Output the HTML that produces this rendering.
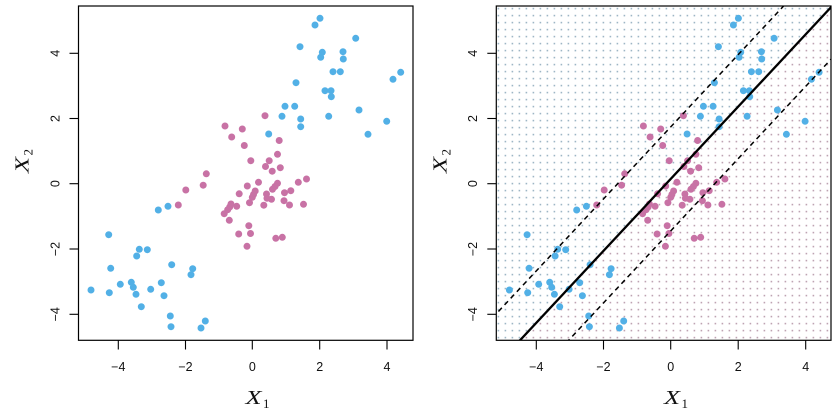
<!DOCTYPE html>
<html>
<head>
<meta charset="utf-8">
<style>
html,body{margin:0;padding:0;background:#fff;}
svg{display:block;}
text{font-family:"Liberation Sans",Arial,sans-serif;fill:#111;}
.t{font-size:12.5px;}
.m{font-family:"Liberation Serif","Times New Roman",serif;}
</style>
</head>
<body>
<svg width="840" height="414" viewBox="0 0 840 414" xmlns="http://www.w3.org/2000/svg">
<rect width="840" height="414" fill="#fff"/>
<defs>
  <clipPath id="cr"><rect x="496.3" y="6" width="334.7" height="334.3"/></clipPath>
  <pattern id="pb" x="497.6" y="7.8" width="7" height="7" patternUnits="userSpaceOnUse">
    <rect width="1.6" height="1.6" fill="#9db6c5"/>
  </pattern>
  <pattern id="pp" x="497.6" y="7.8" width="7" height="7" patternUnits="userSpaceOnUse">
    <rect width="1.6" height="1.6" fill="#bea3b2"/>
  </pattern>
  <g id="pts">
    <g fill="#52b0e6">
      <circle cx="320" cy="18.3" r="3.5"/><circle cx="315" cy="25" r="3.5"/><circle cx="355.7" cy="38.3" r="3.5"/>
      <circle cx="300" cy="46.7" r="3.5"/><circle cx="322.3" cy="52.3" r="3.5"/><circle cx="320.7" cy="57.3" r="3.5"/>
      <circle cx="343" cy="51.7" r="3.5"/><circle cx="343.3" cy="59" r="3.5"/><circle cx="333" cy="71.7" r="3.5"/>
      <circle cx="340.3" cy="71.7" r="3.5"/><circle cx="400.7" cy="72.3" r="3.5"/><circle cx="393" cy="79.3" r="3.5"/>
      <circle cx="296" cy="82.7" r="3.5"/><circle cx="325" cy="90.7" r="3.5"/><circle cx="331" cy="90.7" r="3.5"/>
      <circle cx="331.3" cy="96.7" r="3.5"/><circle cx="285" cy="106.3" r="3.5"/><circle cx="294.7" cy="106.3" r="3.5"/>
      <circle cx="359" cy="110" r="3.5"/><circle cx="282" cy="116.3" r="3.5"/><circle cx="300.7" cy="119" r="3.5"/>
      <circle cx="328.7" cy="116.3" r="3.5"/><circle cx="386.7" cy="121.3" r="3.5"/><circle cx="300.7" cy="126.7" r="3.5"/>
      <circle cx="368" cy="134.3" r="3.5"/><circle cx="268.7" cy="134" r="3.5"/>
      <circle cx="158.3" cy="210" r="3.5"/><circle cx="168" cy="206.3" r="3.5"/><circle cx="108.7" cy="234.7" r="3.5"/>
      <circle cx="139.3" cy="249.3" r="3.5"/><circle cx="147.3" cy="249.7" r="3.5"/><circle cx="136.7" cy="256" r="3.5"/>
      <circle cx="110.7" cy="268.3" r="3.5"/><circle cx="171.7" cy="264.7" r="3.5"/><circle cx="192.7" cy="268.7" r="3.5"/>
      <circle cx="191" cy="274.7" r="3.5"/><circle cx="91" cy="290" r="3.5"/><circle cx="120.3" cy="284.3" r="3.5"/>
      <circle cx="131.3" cy="282.3" r="3.5"/><circle cx="133.3" cy="287.3" r="3.5"/><circle cx="150.7" cy="289.3" r="3.5"/>
      <circle cx="161.3" cy="282.7" r="3.5"/><circle cx="109.3" cy="292.7" r="3.5"/><circle cx="136" cy="294.3" r="3.5"/>
      <circle cx="164" cy="295.7" r="3.5"/><circle cx="141.3" cy="306.7" r="3.5"/><circle cx="170.3" cy="316" r="3.5"/>
      <circle cx="171" cy="326.7" r="3.5"/><circle cx="205.3" cy="321" r="3.5"/><circle cx="201" cy="328" r="3.5"/>
    </g>
    <g fill="#c872a5">
      <circle cx="265" cy="115.7" r="3.5"/><circle cx="225" cy="126" r="3.5"/><circle cx="242.3" cy="129" r="3.5"/>
      <circle cx="231.7" cy="137" r="3.5"/><circle cx="244.3" cy="145.5" r="3.5"/><circle cx="279.2" cy="140.5" r="3.5"/>
      <circle cx="277.5" cy="154.3" r="3.5"/><circle cx="250.8" cy="160.7" r="3.5"/><circle cx="269.2" cy="160.7" r="3.5"/>
      <circle cx="265.5" cy="166.5" r="3.5"/><circle cx="280.3" cy="167.7" r="3.5"/><circle cx="272.2" cy="171.2" r="3.5"/>
      <circle cx="206.3" cy="173.8" r="3.5"/><circle cx="203.2" cy="185.2" r="3.5"/><circle cx="185.8" cy="190" r="3.5"/>
      <circle cx="306.5" cy="179" r="3.5"/><circle cx="298.3" cy="182.3" r="3.5"/><circle cx="258.5" cy="182.3" r="3.5"/>
      <circle cx="247.3" cy="186" r="3.5"/><circle cx="277.5" cy="183.3" r="3.5"/><circle cx="275" cy="186.5" r="3.5"/>
      <circle cx="272.5" cy="189.3" r="3.5"/><circle cx="290.8" cy="190.7" r="3.5"/><circle cx="284.5" cy="192.7" r="3.5"/>
      <circle cx="255.2" cy="191" r="3.5"/><circle cx="253.5" cy="194.5" r="3.5"/><circle cx="252.3" cy="197.3" r="3.5"/>
      <circle cx="249.5" cy="202.7" r="3.5"/><circle cx="239.2" cy="193.8" r="3.5"/><circle cx="266.5" cy="194" r="3.5"/>
      <circle cx="267" cy="198.3" r="3.5"/><circle cx="271.5" cy="199.3" r="3.5"/><circle cx="284" cy="200.7" r="3.5"/>
      <circle cx="289.5" cy="205" r="3.5"/><circle cx="303.5" cy="204.3" r="3.5"/><circle cx="263.8" cy="205.2" r="3.5"/>
      <circle cx="231" cy="204" r="3.5"/><circle cx="229.7" cy="207" r="3.5"/><circle cx="236.7" cy="206.3" r="3.5"/>
      <circle cx="227.7" cy="209.7" r="3.5"/><circle cx="224.2" cy="213.7" r="3.5"/><circle cx="229.3" cy="220.3" r="3.5"/>
      <circle cx="248.8" cy="225.7" r="3.5"/><circle cx="250.5" cy="233.5" r="3.5"/><circle cx="238.7" cy="234" r="3.5"/>
      <circle cx="275.8" cy="238.3" r="3.5"/><circle cx="282.3" cy="237.3" r="3.5"/><circle cx="247" cy="246.3" r="3.5"/>
      <circle cx="178.3" cy="205" r="3.5"/>
    </g>
  </g>
</defs>

<!-- LEFT PANEL -->
<use href="#pts"/>
<rect x="78.5" y="6" width="334.5" height="334.3" fill="none" stroke="#000" stroke-width="1.2"/>
<g stroke="#000" stroke-width="1.1">
  <line x1="118.3" y1="340.3" x2="118.3" y2="349.5"/>
  <line x1="185.5" y1="340.3" x2="185.5" y2="349.5"/>
  <line x1="252.3" y1="340.3" x2="252.3" y2="349.5"/>
  <line x1="319.7" y1="340.3" x2="319.7" y2="349.5"/>
  <line x1="387" y1="340.3" x2="387" y2="349.5"/>
  <line x1="69.5" y1="53.3" x2="78.5" y2="53.3"/>
  <line x1="69.5" y1="118.5" x2="78.5" y2="118.5"/>
  <line x1="69.5" y1="183.7" x2="78.5" y2="183.7"/>
  <line x1="69.5" y1="249" x2="78.5" y2="249"/>
  <line x1="69.5" y1="314.3" x2="78.5" y2="314.3"/>
</g>
<g class="t" text-anchor="middle">
  <text x="118.3" y="371">−4</text>
  <text x="185.5" y="371">−2</text>
  <text x="252.3" y="371">0</text>
  <text x="319.7" y="371">2</text>
  <text x="387" y="371">4</text>
  <text transform="translate(59.3,53.3) rotate(-90)">4</text>
  <text transform="translate(59.3,118.5) rotate(-90)">2</text>
  <text transform="translate(59.3,183.7) rotate(-90)">0</text>
  <text transform="translate(59.3,249) rotate(-90)">−2</text>
  <text transform="translate(59.3,314.3) rotate(-90)">−4</text>
</g>
<text class="m" x="245.5" y="404" font-size="20" font-style="italic" textLength="16" lengthAdjust="spacingAndGlyphs">X</text>
<text class="m" x="263" y="408" font-size="13">1</text>
<text class="m" transform="translate(28.5,173) rotate(-90)" font-size="20" font-style="italic" textLength="16" lengthAdjust="spacingAndGlyphs">X</text>
<text class="m" transform="translate(32.5,155.5) rotate(-90)" font-size="13">2</text>

<!-- RIGHT PANEL -->
<g clip-path="url(#cr)">
  <polygon points="496.3,6 831,6 831,7.2 520,340.3 496.3,340.3" fill="url(#pb)"/>
  <polygon points="831,7.2 831,340.3 520,340.3" fill="url(#pp)"/>
  <use href="#pts" x="418.4"/>
  <line x1="510" y1="351" x2="840" y2="-2.4" stroke="#000" stroke-width="2.3"/>
  <line x1="480" y1="331.2" x2="840" y2="-54.4" stroke="#000" stroke-width="1.5" stroke-dasharray="5 4"/>
  <line x1="560" y1="349.5" x2="840" y2="49.6" stroke="#000" stroke-width="1.5" stroke-dasharray="5 4"/>
</g>
<rect x="496.3" y="6" width="334.7" height="334.3" fill="none" stroke="#000" stroke-width="1.2"/>
<g stroke="#000" stroke-width="1.1">
  <line x1="536.3" y1="340.3" x2="536.3" y2="349.5"/>
  <line x1="603.5" y1="340.3" x2="603.5" y2="349.5"/>
  <line x1="670.7" y1="340.3" x2="670.7" y2="349.5"/>
  <line x1="738.2" y1="340.3" x2="738.2" y2="349.5"/>
  <line x1="805.7" y1="340.3" x2="805.7" y2="349.5"/>
  <line x1="487.3" y1="53.3" x2="496.3" y2="53.3"/>
  <line x1="487.3" y1="118.5" x2="496.3" y2="118.5"/>
  <line x1="487.3" y1="183.7" x2="496.3" y2="183.7"/>
  <line x1="487.3" y1="249" x2="496.3" y2="249"/>
  <line x1="487.3" y1="314.3" x2="496.3" y2="314.3"/>
</g>
<g class="t" text-anchor="middle">
  <text x="536.3" y="371">−4</text>
  <text x="603.5" y="371">−2</text>
  <text x="670.7" y="371">0</text>
  <text x="738.2" y="371">2</text>
  <text x="805.7" y="371">4</text>
  <text transform="translate(477,53.3) rotate(-90)">4</text>
  <text transform="translate(477,118.5) rotate(-90)">2</text>
  <text transform="translate(477,183.7) rotate(-90)">0</text>
  <text transform="translate(477,249) rotate(-90)">−2</text>
  <text transform="translate(477,314.3) rotate(-90)">−4</text>
</g>
<text class="m" x="664" y="404" font-size="20" font-style="italic" textLength="16" lengthAdjust="spacingAndGlyphs">X</text>
<text class="m" x="681.5" y="408" font-size="13">1</text>
<text class="m" transform="translate(446.5,173) rotate(-90)" font-size="20" font-style="italic" textLength="16" lengthAdjust="spacingAndGlyphs">X</text>
<text class="m" transform="translate(450.5,155.5) rotate(-90)" font-size="13">2</text>
</svg>
</body>
</html>
